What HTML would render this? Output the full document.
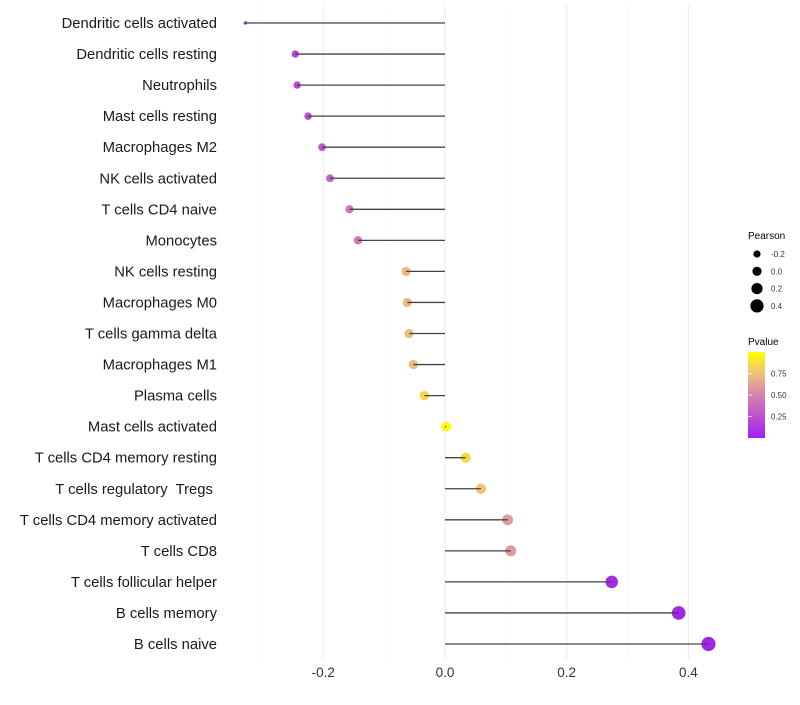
<!DOCTYPE html>
<html><head><meta charset="utf-8"><style>
body{margin:0;background:#fff;font-family:"Liberation Sans",sans-serif}
text{white-space:pre}
</style></head><body>
<svg id="chart" width="800" height="700" xmlns="http://www.w3.org/2000/svg">
<defs><linearGradient id="pg" x1="0" y1="1" x2="0" y2="0">
<stop offset="0" stop-color="#a020f0"/><stop offset="0.5" stop-color="#d582b0"/><stop offset="0.75" stop-color="#f0c07a"/><stop offset="1" stop-color="#ffff00"/>
</linearGradient></defs>
<g id="grid"></g><g id="dots"></g><g id="marks"></g><g id="labels"></g>
</svg>
<script>
const categories=["Dendritic cells activated","Dendritic cells resting","Neutrophils","Mast cells resting","Macrophages M2","NK cells activated","T cells CD4 naive","Monocytes","NK cells resting","Macrophages M0","T cells gamma delta","Macrophages M1","Plasma cells","Mast cells activated","T cells CD4 memory resting","T cells regulatory  Tregs ","T cells CD4 memory activated","T cells CD8","T cells follicular helper","B cells memory","B cells naive"];
const pearson=[-0.328,-0.246,-0.243,-0.225,-0.202,-0.189,-0.157,-0.143,-0.064,-0.062,-0.059,-0.052,-0.034,0.002,0.034,0.059,0.103,0.108,0.274,0.384,0.433];
const pvalue=[0.05,0.18,0.2,0.24,0.3,0.35,0.45,0.45,0.72,0.72,0.73,0.74,0.85,0.99,0.85,0.76,0.6,0.58,0.06,0.03,0.02];
const xTicks=[-0.2,0.0,0.2,0.4];
const xMinor=[-0.3,-0.1,0.1,0.3];
const legendSizes=[-0.2,0.0,0.2,0.4];
const pTicks=[0.25,0.5,0.75];
const NS="http://www.w3.org/2000/svg";
const x=v=>445+v*608.5;
const y=i=>23+i*31.05;
const r=p=>Math.max(1.7,4.9+5*p-Math.max(0,-0.25-p)*20);
function col(p){const st=[[0,[160,32,240]],[0.5,[213,130,176]],[0.75,[240,192,122]],[1,[255,255,0]]];
for(let k=1;k<st.length;k++){if(p<=st[k][0]){const a=st[k-1],b=st[k],t=(p-a[0])/(b[0]-a[0]);return "rgb("+a[1].map((c,j)=>Math.round(c+(b[1][j]-c)*t)).join(",")+")";}}return "rgb(255,255,0)";}
function el(t,a,parent){const e=document.createElementNS(NS,t);for(const k in a)e.setAttribute(k,a[k]);parent.appendChild(e);return e;}
const G=document.getElementById('grid'),D=document.getElementById('dots'),M=document.getElementById('marks'),L=document.getElementById('labels');
xMinor.forEach(v=>{const e=el('line',{x1:x(v),x2:x(v),y1:5,y2:660,stroke:'#f3f3f3','stroke-width':0.6},G);

});
xTicks.forEach(v=>{const e=el('line',{x1:x(v),x2:x(v),y1:5,y2:660,stroke:'#ebebeb','stroke-width':1},G);


const t=el('text',{x:x(v),y:677,'text-anchor':'middle','font-size':13.5,fill:'#333'},L);t.textContent=v.toFixed(1);

});
categories.forEach((c,i)=>{
const d=el('circle',{cx:x(pearson[i]),cy:y(i),r:r(pearson[i]),fill:col(pvalue[i])},D);


const ln=el('line',{x1:x(0),x2:x(pearson[i]),y1:y(i),y2:y(i),stroke:'#444','stroke-width':1.3},M);


const t=el('text',{x:217,y:y(i)+5,'text-anchor':'end','font-size':14.8,fill:'#1a1a1a'},L);t.textContent=c;

});
const lt=el('text',{x:748,y:239,'font-size':10,fill:'#000'},L);lt.textContent='Pearson';


legendSizes.forEach((v,k)=>{const cy=254+k*17.3;
const c=el('circle',{cx:757,cy:cy,r:3.6+k*1,fill:'#000'},L);


const t=el('text',{x:771,y:cy+3,'font-size':8,fill:'#333'},L);t.textContent=v.toFixed(1);

});
const pt=el('text',{x:748,y:345,'font-size':10,fill:'#000'},L);pt.textContent='Pvalue';


const bar=el('rect',{x:748,y:352,width:17,height:86,fill:'url(#pg)'},L);


pTicks.forEach(v=>{const yy=438-v*86;
const tk=el('line',{x1:748,x2:752,y1:yy,y2:yy,stroke:'#fff','stroke-width':0.7},L);


const t=el('text',{x:771,y:yy+3,'font-size':8,fill:'#333'},L);t.textContent=v.toFixed(2);

});
</script>
</body></html>
